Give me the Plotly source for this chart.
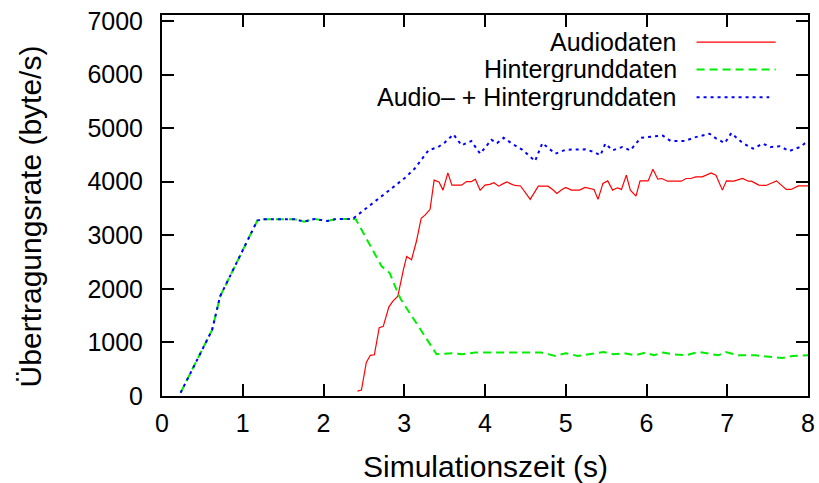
import plotly.graph_objects as go

# ---------------- data ----------------
audio_t = [2.42, 2.47, 2.53, 2.58, 2.63, 2.69, 2.74, 2.81, 2.86, 2.92, 2.99, 3.03, 3.09, 3.15,
           3.21, 3.26, 3.32, 3.37, 3.43, 3.48, 3.54, 3.59, 3.65, 3.71, 3.77, 3.83, 3.88, 3.94,
           4.00, 4.06, 4.11, 4.17, 4.22, 4.27, 4.32, 4.37, 4.44, 4.56, 4.66, 4.78, 4.84, 4.89,
           4.95, 5.00, 5.07, 5.17, 5.24, 5.35, 5.40, 5.46, 5.52, 5.58, 5.64, 5.69, 5.75, 5.80,
           5.87, 5.92, 6.02, 6.08, 6.14, 6.19, 6.26, 6.43, 6.49, 6.55, 6.61, 6.69, 6.80, 6.86,
           6.94, 6.99, 7.08, 7.19, 7.26, 7.30, 7.39, 7.48, 7.61, 7.73, 7.79, 7.88, 7.98, 8.00]
audio_v = [90, 110, 625, 760, 770, 1275, 1300, 1665, 1770, 1862, 2358, 2605, 2543, 2884,
           3318, 3380, 3485, 4029, 3997, 3843, 4165, 3936, 3936, 3936, 4004, 4000, 4047, 3843,
           3936, 3950, 3980, 3917, 3960, 3997, 3960, 3930, 3920, 3670, 3917, 3917, 3850, 3782,
           3850, 3893, 3843, 3843, 3893, 3856, 3670, 3968, 4016, 3843, 3886, 3856, 4122, 3843,
           3732, 4016, 4016, 4233, 4047, 4060, 4010, 4010, 4060, 4060, 4090, 4090, 4165, 4122,
           3843, 4016, 4010, 4060, 4010, 4010, 3936, 3930, 4016, 3856, 3856, 3923, 3923, 3923]

bg_t = [0.23, 0.62, 0.72, 1.18, 1.24, 1.64, 1.76, 1.89, 2.05, 2.16, 2.36, 2.40, 2.72, 2.82,
        2.92, 2.96, 3.40, 3.59, 3.72, 3.88, 4.20, 4.50, 4.70, 4.87, 5.00, 5.15, 5.32, 5.47,
        5.59, 5.72, 5.86, 5.99, 6.09, 6.20, 6.32, 6.49, 6.65, 6.79, 6.89, 6.98, 7.14, 7.35,
        7.56, 7.68, 7.81, 7.98, 8.00]
bg_v = [60, 1231, 1862, 3274, 3300, 3300, 3255, 3305, 3267, 3305, 3305, 3300, 2420, 2296,
        1925, 1800, 780, 798, 780, 811, 811, 811, 811, 748, 798, 748, 780, 822,
        780, 798, 760, 810, 760, 810, 780, 760, 822, 780, 760, 822, 760, 760,
        735, 710, 748, 760, 760]

sum_t = [0.23, 0.62, 0.72, 1.18, 1.24, 1.64, 1.76, 1.89, 2.05, 2.16, 2.36, 2.55, 2.76, 3.00,
         3.13, 3.30, 3.42, 3.50, 3.61, 3.71, 3.83, 3.94, 4.08, 4.15, 4.23, 4.33, 4.46, 4.62,
         4.71, 4.87, 5.00, 5.24, 5.35, 5.43, 5.49, 5.58, 5.70, 5.80, 5.93, 6.09, 6.20, 6.30,
         6.47, 6.61, 6.78, 6.86, 6.97, 7.05, 7.19, 7.32, 7.44, 7.54, 7.65, 7.77, 7.90, 8.00]
sum_v = [60, 1231, 1862, 3274, 3300, 3300, 3255, 3305, 3267, 3305, 3305, 3533, 3769, 4060,
         4246, 4586, 4647, 4730, 4883, 4679, 4760, 4523, 4783, 4720, 4821, 4715, 4598, 4387,
         4722, 4523, 4598, 4604, 4555, 4493, 4710, 4586, 4647, 4586, 4821, 4846, 4860, 4760,
         4760, 4833, 4896, 4808, 4722, 4908, 4722, 4617, 4710, 4647, 4660, 4574, 4647, 4760]

series_names = ["Audiodaten", "Hintergrunddaten", "Audio\u2013 + Hintergrunddaten"]
x_ticks = [0, 1, 2, 3, 4, 5, 6, 7, 8]
y_ticks = [0, 1000, 2000, 3000, 4000, 5000, 6000, 7000]
x_title = "Simulationszeit (s)"
y_title = "\u00dcbertragungsrate (byte/s)"

# ---------------- styles ----------------
FONT = "Liberation Sans, Arial, Helvetica, sans-serif"
styles = [
    dict(color="#ff0000", width=1.2, dash="solid"),
    dict(color="#00ee00", width=2, dash="8px,5px"),
    dict(color="#0000ff", width=2, dash="3px,4px"),
]

fig = go.Figure()
for (t, v), name, st in zip([(audio_t, audio_v), (bg_t, bg_v), (sum_t, sum_v)], series_names, styles):
    fig.add_trace(go.Scatter(x=t, y=v, mode="lines", name=name, line=st, showlegend=False))

axis_common = dict(
    showgrid=False, zeroline=False, showline=True, linecolor="black", linewidth=2,
    mirror="ticks", ticks="inside", ticklen=12, tickwidth=2, tickcolor="black",
    automargin=False,
    tickfont=dict(family=FONT, size=25, color="black"),
)
fig.update_xaxes(range=[0, 8], tickvals=x_ticks, ticktext=[str(v) for v in x_ticks],
                 ticklabelstandoff=4, **axis_common)
fig.update_yaxes(range=[0, 7112], tickvals=y_ticks, ticktext=[str(v) for v in y_ticks],
                 ticklabelstandoff=12, **axis_common)

# axis titles
fig.add_annotation(text=x_title, xref="paper", yref="paper", x=0.5, y=-0.184,
                   xanchor="center", yanchor="middle", showarrow=False,
                   font=dict(family=FONT, size=30, color="black"))
fig.add_annotation(text=y_title, xref="paper", yref="paper", x=-0.204, y=0.472,
                   xanchor="center", yanchor="middle", textangle=-90, showarrow=False,
                   font=dict(family=FONT, size=30, color="black"))

# gnuplot-style key (text right, sample line to the right)
key_y = [0.929, 0.857, 0.784]
key_x_end = [0.950, 0.950, 0.940]
for name, st, ky, xe in zip(series_names, styles, key_y, key_x_end):
    fig.add_annotation(text=name, xref="paper", yref="paper", x=0.800, y=ky,
                       xanchor="right", yanchor="middle", showarrow=False,
                       font=dict(family=FONT, size=25, color="black"),
                       height=26, valign="middle")
    fig.add_shape(type="line", xref="paper", yref="paper", x0=0.8275, x1=xe, y0=ky, y1=ky,
                  line=dict(color=st["color"], width=st["width"], dash=st["dash"]))

fig.update_layout(
    width=819, height=483,
    margin=dict(l=162, r=10.5, t=15, b=87),
    paper_bgcolor="white", plot_bgcolor="white",
    showlegend=False,
)

fig.write_html("out.html")
